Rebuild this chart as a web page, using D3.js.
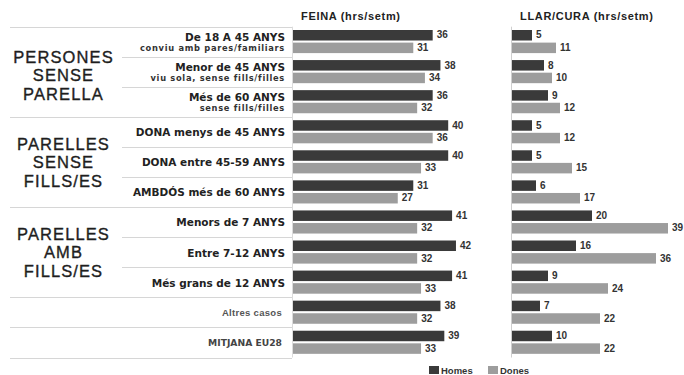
<!DOCTYPE html>
<html>
<head>
<meta charset="utf-8">
<script src="https://cdn.jsdelivr.net/npm/d3@7"></script>
<style>
  html, body { margin: 0; padding: 0; background: #fff; }
  svg { display: block; }
</style>
</head>
<body>
<div id="chart"></div>
<script>
const categories = ["De 18 A 45 ANYS", "Menor de 45 ANYS", "Més de 60 ANYS",
  "DONA menys de 45 ANYS", "DONA entre 45-59 ANYS", "AMBDÓS més de 60 ANYS",
  "Menors de 7 ANYS", "Entre 7-12 ANYS", "Més grans de 12 ANYS",
  "Altres casos", "MITJANA EU28"];
const subLabels = ["conviu amb pares/familiars", "viu sola, sense fills/filles", "sense fills/filles",
  "", "", "", "", "", "", "", ""];
const feinaHomes = [36, 38, 36, 40, 40, 31, 41, 42, 41, 38, 39];
const feinaDones = [31, 34, 32, 36, 33, 27, 32, 32, 33, 32, 33];
const llarHomes = [5, 8, 9, 5, 5, 6, 20, 16, 9, 7, 10];
const llarDones = [11, 10, 12, 12, 15, 17, 39, 36, 24, 22, 22];
const groupLabels = [["PERSONES", "SENSE", "PARELLA"], ["PARELLES", "SENSE", "FILLS/ES"], ["PARELLES", "AMB", "FILLS/ES"]];
const groupRows = [[0, 2], [3, 5], [6, 8]];
const panelTitles = ["FEINA (hrs/setm)", "LLAR/CURA (hrs/setm)"];
const seriesNames = ["Homes", "Dones"];

const W = 684, H = 375;
const colors = ["#3a3a3a", "#9d9d9d"];
const svg = d3.select("#chart").append("svg").attr("width", W).attr("height", H);

const y = d3.scaleBand().domain(categories).range([26.7, 357.5]).padding(0);
const bw = y.bandwidth();
const xL = d3.scaleLinear().domain([0, 45]).range([293, 293 + 45 * 3.88]);
const xR = d3.scaleLinear().domain([0, 45]).range([512, 512 + 45 * 4.0]);

const rows = categories.map((c, i) => ({ c, i, sub: subLabels[i] }));

// separators
const groupStarts = new Set(groupRows.map(g => g[0]));
const seps = [];
categories.forEach((c, i) => {
  seps.push({ y: y(c), full: groupStarts.has(i) || i >= 9 || i === 0 });
});
seps.push({ y: y(categories[categories.length - 1]) + bw, full: true });
svg.selectAll("line.sep").data(seps).enter().append("line")
  .attr("x1", d => d.full ? 10 : 122).attr("x2", 292)
  .attr("y1", d => Math.round(d.y) + 0.5).attr("y2", d => Math.round(d.y) + 0.5)
  .attr("stroke", "#d6d6d6").attr("stroke-width", 1);

// vertical edges
svg.append("line").attr("x1", 292.5).attr("x2", 292.5)
  .attr("y1", y.range()[0]).attr("y2", y.range()[1]).attr("stroke", "#dcdcdc");
svg.append("line").attr("x1", xR(0) - 0.5).attr("x2", xR(0) - 0.5)
  .attr("y1", y.range()[0]).attr("y2", y.range()[1]).attr("stroke", "#cfcfcf");

// group labels
groupLabels.forEach((lines, gi) => {
  const [a, b] = groupRows[gi];
  const cy = (y(categories[a]) + y(categories[b]) + bw) / 2 + (gi === 0 ? 3.5 : 0);
  lines.forEach((l, li) => {
    svg.append("text").attr("text-anchor", "middle")
      .attr("font-family", "'Liberation Sans', Arial, sans-serif").attr("font-size", 16.5)
      .attr("letter-spacing", 1.1)
      .attr("stroke", "#1e1e1e").attr("stroke-width", 0.35)
      .attr("fill", "#1e1e1e")
      .attr("x", 63.5).attr("y", cy + 6 + (li - 1) * 18.5).text(l);
  });
});

// row labels
const lblX = 285;
rows.forEach(r => {
  const y0 = y(r.c);
  if (r.sub) {
    svg.append("text").attr("x", lblX).attr("y", y0 + 14).attr("text-anchor", "end")
      .attr("font-family", "'DejaVu Sans', sans-serif").attr("font-weight", "bold")
      .attr("font-size", 10.5).attr("fill", "#222").text(r.c);
    svg.append("text").attr("x", lblX).attr("y", y0 + 24).attr("text-anchor", "end")
      .attr("font-family", "'DejaVu Sans', sans-serif").attr("font-weight", "bold")
      .attr("font-size", 8.3).attr("letter-spacing", 0.7).attr("fill", "#333").text(r.sub);
  } else if (r.i === 9) {
    svg.append("text").attr("x", lblX - 3).attr("y", y0 + bw / 2 + 3.5).attr("text-anchor", "end")
      .attr("font-family", "'Liberation Sans', Arial, sans-serif").attr("font-weight", "bold")
      .attr("font-size", 9.5).attr("letter-spacing", 0.3).attr("fill", "#555").text(r.c);
  } else if (r.i === 10) {
    svg.append("text").attr("x", lblX - 3).attr("y", y0 + bw / 2 + 3.5).attr("text-anchor", "end")
      .attr("font-family", "'DejaVu Sans', sans-serif").attr("font-weight", "bold")
      .attr("font-size", 9.2).attr("fill", "#444").text(r.c);
  } else {
    svg.append("text").attr("x", lblX).attr("y", y0 + bw / 2 + 4.3).attr("text-anchor", "end")
      .attr("font-family", "'DejaVu Sans', sans-serif").attr("font-weight", "bold")
      .attr("font-size", 10.5).attr("fill", "#222").text(r.c);
  }
});

// titles
svg.append("text").attr("x", 301).attr("y", 20)
  .attr("font-family", "'Liberation Sans', Arial, sans-serif").attr("font-weight", "bold")
  .attr("font-size", 11).attr("fill", "#222")
  .attr("textLength", 99).attr("lengthAdjust", "spacing").text(panelTitles[0]);
svg.append("text").attr("x", 520).attr("y", 20)
  .attr("font-family", "'Liberation Sans', Arial, sans-serif").attr("font-weight", "bold")
  .attr("font-size", 11).attr("fill", "#222")
  .attr("textLength", 133).attr("lengthAdjust", "spacing").text(panelTitles[1]);

// bars
const barH = 10.5;
const offs = [3.3, 15.9];
function drawPanel(x, homes, dones, cls) {
  const series = [homes, dones];
  series.forEach((vals, si) => {
    const data = categories.map((c, i) => ({ c, v: vals[i] }));
    svg.selectAll("rect." + cls + si).data(data).enter().append("rect")
      .attr("x", x(0)).attr("y", d => y(d.c) + offs[si])
      .attr("width", d => x(d.v) - x(0)).attr("height", barH)
      .attr("fill", colors[si]);
    svg.selectAll("text." + cls + si).data(data).enter().append("text")
      .attr("x", d => x(d.v) + 4).attr("y", d => y(d.c) + offs[si] + barH / 2 + 3.2)
      .attr("font-family", "'Liberation Sans', Arial, sans-serif").attr("font-weight", "bold")
      .attr("font-size", 10).attr("fill", "#333").text(d => d.v);
  });
}
drawPanel(xL, feinaHomes, feinaDones, "f");
drawPanel(xR, llarHomes, llarDones, "l");

// legend
const legX = [429, 488];
seriesNames.forEach((n, i) => {
  svg.append("rect").attr("x", legX[i]).attr("y", 366).attr("width", 10).attr("height", 8)
    .attr("fill", colors[i]);
  svg.append("text").attr("x", legX[i] + 12).attr("y", 374)
    .attr("font-family", "'Liberation Sans', Arial, sans-serif").attr("font-weight", "bold")
    .attr("font-size", 9.5).attr("fill", "#333").text(n);
});
</script>
</body>
</html>
